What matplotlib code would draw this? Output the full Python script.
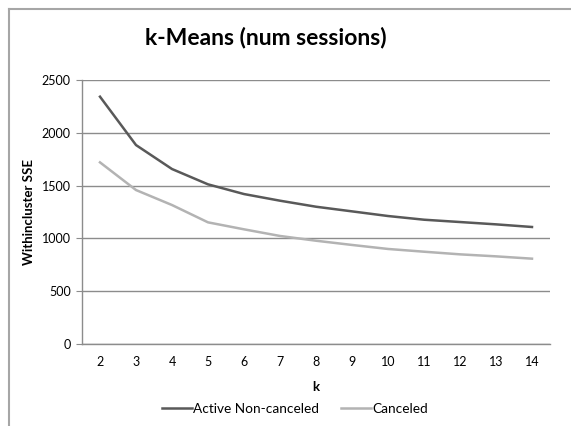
import matplotlib
matplotlib.use("Agg")
import matplotlib.pyplot as plt
from matplotlib.lines import Line2D

# k-means elbow data
k_values = [2, 3, 4, 5, 6, 7, 8, 9, 10, 11, 12, 13, 14]
active_sse = [2342, 1884, 1657, 1512, 1420, 1357, 1300, 1256, 1212, 1177, 1155, 1133, 1108]
canceled_sse = [1720, 1458, 1316, 1152, 1086, 1023, 978, 938, 900, 874, 849, 830, 808]
y_ticks = [0, 500, 1000, 1500, 2000, 2500]

plt.rcParams['font.family'] = ['Lato', 'DejaVu Sans']

fig = plt.figure(figsize=(5.71, 4.26), dpi=100)
ax = fig.add_axes([0.1436, 0.1925, 0.8196, 0.6197])

# outer chart frame (left and top edges visible)
fig.add_artist(Line2D([9 / 571, 9 / 571], [0, 1 - 9 / 426], color='#a6a6a6', lw=1.5))
fig.add_artist(Line2D([9 / 571, 1], [1 - 9 / 426, 1 - 9 / 426], color='#a6a6a6', lw=1.5))

pos = list(range(len(k_values)))
ax.plot(pos, active_sse, color='#595959', lw=1.8, label='Active Non-canceled')
ax.plot(pos, canceled_sse, color='#b3b3b3', lw=1.8, label='Canceled')

ax.set_xlim(-0.5, len(k_values) - 0.5)
ax.set_ylim(0, 2500)
ax.set_yticks(y_ticks)
ax.set_xticks(pos)
ax.set_xticklabels([str(k) for k in k_values])
ax.yaxis.grid(True, color='#8c8c8c', lw=1.0)
ax.set_axisbelow(True)

for side in ['top', 'right']:
    ax.spines[side].set_visible(False)
for side in ['left', 'bottom']:
    ax.spines[side].set_color('#8c8c8c')
    ax.spines[side].set_linewidth(1.0)
ax.tick_params(axis='y', length=4, color='#8c8c8c', labelsize=9, pad=4)
ax.tick_params(axis='x', length=0, labelsize=9, pad=9)

ax.set_xlabel('k', fontsize=9.5, fontweight='bold', labelpad=9)
ax.set_ylabel('Withincluster SSE', fontsize=9.5, fontweight='bold', labelpad=5)

fig.text(0.466, 0.911, 'k-Means (num sessions)', ha='center', va='center',
         fontsize=16.5, fontweight='bold')

fig.legend(loc='center', bbox_to_anchor=(0.517, 0.040), ncol=2, frameon=False,
           fontsize=9.8, handlelength=2.2, handletextpad=0.1, columnspacing=1.6)

fig.savefig('out.png', dpi=100)
